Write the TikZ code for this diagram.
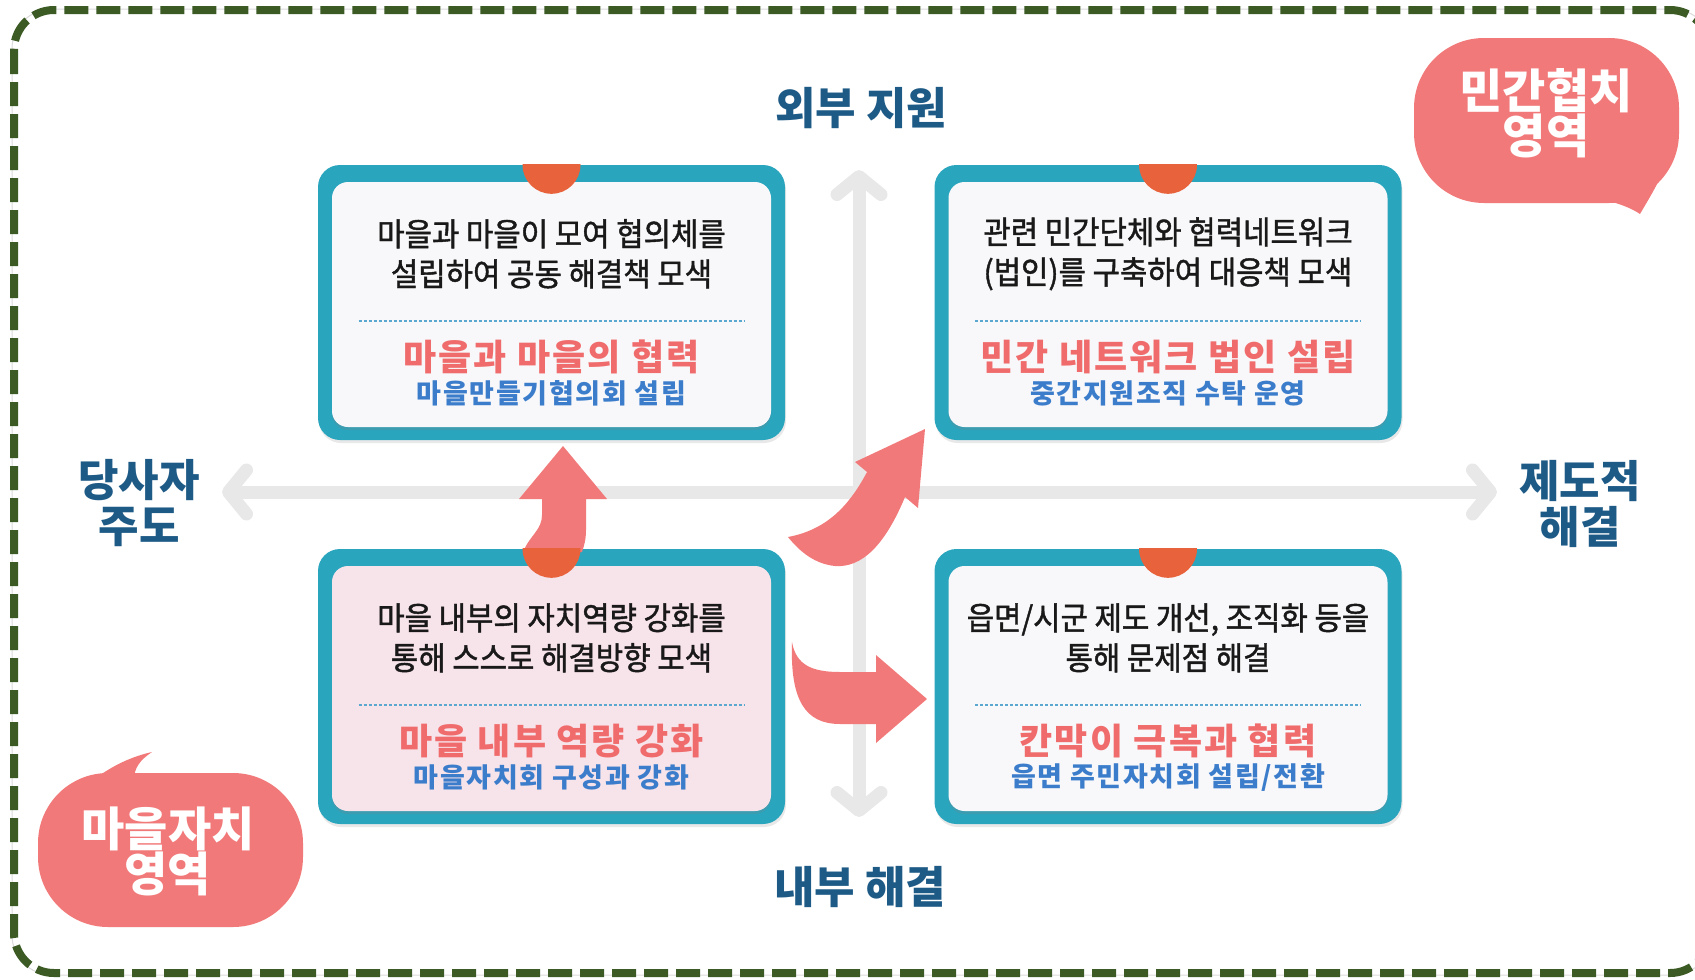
\documentclass[tikz,border=0pt]{standalone}
\usepackage{fontspec}
\newfontfamily\krfont{Noto Sans CJK KR}
\newfontfamily\krnarrow{Noto Sans CJK KR}[FakeStretch=0.93, FakeBold=1.3]
\newfontfamily\krwide{Noto Sans CJK KR}[LetterSpace=6]
\usetikzlibrary{arrows.meta, positioning, shadows}

\definecolor{cardteal}{HTML}{2AA5BE}
\definecolor{cardwhite}{HTML}{F8F8FA}
\definecolor{cardpink}{HTML}{F7E3EA}
\definecolor{knoborange}{HTML}{E8623C}
\definecolor{bubblered}{HTML}{F27979}
\definecolor{headpink}{HTML}{F06B6B}
\definecolor{subblue}{HTML}{3C7DCB}
\definecolor{labelblue}{HTML}{1E5A86}
\definecolor{axisgray}{HTML}{E8E8E8}
\definecolor{framegreen}{HTML}{3B5A24}
\definecolor{dividerblue}{HTML}{5AA8D0}

\tikzset{
  card/.style={fill=cardteal, rounded corners=22pt, minimum width=467pt, minimum height=275pt, inner sep=0pt,
    drop shadow={opacity=.18, shadow xshift=1pt, shadow yshift=-3pt}},
  cardin/.style={fill=cardwhite, rounded corners=16pt, minimum width=439pt, minimum height=245pt, inner sep=0pt,
    drop shadow={opacity=.22, shadow xshift=0pt, shadow yshift=-3pt}},
  cardtext/.style={font=\krnarrow\fontsize{32}{40}\selectfont, text=black!90, align=center, inner sep=0pt},
  headline/.style={font=\krwide\bfseries\fontsize{36}{40}\selectfont, text=headpink, inner sep=0pt},
  subline/.style={font=\krwide\bfseries\fontsize{27}{30}\selectfont, text=subblue, inner sep=0pt},
  divider/.style={draw=dividerblue, line width=1.5pt, dash pattern=on 3pt off 2pt},
  axislabel/.style={font=\krfont\bfseries\fontsize{44}{46}\selectfont, text=labelblue, align=center, inner sep=0pt},
  axisline/.style={draw=axisgray, line width=13pt,
    arrows={Straight Barb[length=18pt,width=44pt,round]-Straight Barb[length=18pt,width=44pt,round]}},
  bubble/.style={fill=bubblered, rounded corners=70pt, minimum width=265pt, inner sep=0pt},
  bubbletext/.style={font=\krfont\bfseries\fontsize{47}{45}\selectfont, text=white, align=center, inner sep=0pt},
  bigarrow/.style={fill=bubblered},
  knob/.style={fill=knoborange},
  frameline/.style={draw=framegreen, line width=8pt, dash pattern=on 24pt off 8pt, rounded corners=40pt}
}

\begin{document}
\begin{tikzpicture}[x=1pt, y=-1pt]
  \useasboundingbox (0,0) rectangle (1695,980);
  \clip (0,0) rectangle (1695,980);

  % frame
  \draw[gray!30, line width=1pt, rounded corners=40pt] (12,9) rectangle (1712,975);
  \draw[frameline] (14,10) rectangle (1710,973);

  % axes
  \coordinate (axw) at (222,492);
  \coordinate (axe) at (1497,492);
  \coordinate (axn) at (859,170);
  \coordinate (axs) at (859,817);
  \draw[axisline] (axw) -- (axe);
  \draw[axisline] (axs) -- (axn);

  \node[axislabel] (outer) at (861,108) {외부 지원};
  \node[axislabel] (inner) at (860,887) {내부 해결};
  \node[axislabel] (self) at (139,503) {당사자\\주도};
  \node[axislabel] (inst) at (1580,504) {제도적\\해결};

  % cards
  \node[card] (tl) at (551.5,302.5) {};
  \node[cardin] (tlin) at (551.5,304.5) {};
  \node[card] (tr) at (1168,302.5) {};
  \node[cardin] (trin) at (1168,304.5) {};
  \node[card] (bl) at (551.5,686.5) {};
  \node[cardin, fill=cardpink] (blin) at (551.5,688.5) {};
  \node[card] (br) at (1168,686.5) {};
  \node[cardin] (brin) at (1168,688.5) {};

  \node[cardtext] (tltext) at ([yshift=-89pt]tl.north) {마을과 마을이 모여 협의체를\\설립하여 공동 해결책 모색};
  \draw[divider] ([xshift=-193pt,yshift=-156pt]tl.north) -- ([xshift=193pt,yshift=-156pt]tl.north);
  \node[headline] (tlhead) at ([yshift=-192pt]tl.north) {마을과 마을의 협력};
  \node[subline] (tlsub) at ([yshift=-229pt]tl.north) {마을만들기협의회 설립};

  \node[cardtext] (trtext) at ([yshift=-89pt]tr.north) {관련 민간단체와 협력네트워크\\(법인)를 구축하여 대응책 모색};
  \draw[divider] ([xshift=-193pt,yshift=-156pt]tr.north) -- ([xshift=193pt,yshift=-156pt]tr.north);
  \node[headline] (trhead) at ([yshift=-192pt]tr.north) {민간 네트워크 법인 설립};
  \node[subline] (trsub) at ([yshift=-229pt]tr.north) {중간지원조직 수탁 운영};

  \node[cardtext] (bltext) at ([yshift=-89pt]bl.north) {마을 내부의 자치역량 강화를\\통해 스스로 해결방향 모색};
  \draw[divider] ([xshift=-193pt,yshift=-156pt]bl.north) -- ([xshift=193pt,yshift=-156pt]bl.north);
  \node[headline] (blhead) at ([yshift=-192pt]bl.north) {마을 내부 역량 강화};
  \node[subline] (blsub) at ([yshift=-229pt]bl.north) {마을자치회 구성과 강화};

  \node[cardtext] (brtext) at ([yshift=-89pt]br.north) {읍면/시군 제도 개선, 조직화 등을\\통해 문제점 해결};
  \draw[divider] ([xshift=-193pt,yshift=-156pt]br.north) -- ([xshift=193pt,yshift=-156pt]br.north);
  \node[headline] (brhead) at ([yshift=-192pt]br.north) {칸막이 극복과 협력};
  \node[subline] (brsub) at ([yshift=-229pt]br.north) {읍면 주민자치회 설립/전환};

  % block arrows
  \fill[bigarrow] (523,552) .. controls (530,535) and (542,530) .. (542,515) -- (542,499) -- (519,499)
    -- (563,446) -- (607,499) -- (586,499) -- (586,530) .. controls (586,540) and (584,546) .. (582,552) -- cycle;
  \fill[bigarrow] (788,537) .. controls (825,530) and (848,508) .. (867,472) -- (855,462) -- (925,429)
    -- (918,508) -- (905,497) .. controls (885,545) and (862,568) .. (835,566)
    .. controls (815,564) and (800,552) .. (788,537) -- cycle;
  \fill[bigarrow] (792,642) .. controls (796,665) and (812,672) .. (840,672) -- (876,672) -- (876,655)
    -- (927,699) -- (876,743) -- (876,724) -- (840,724) .. controls (805,724) and (790,700) .. (792,642) -- cycle;

  % knobs
  \foreach \c in {tl,tr,bl,br} {
    \begin{scope}
      \clip (\c.north west) rectangle (\c.south east);
      \fill[knob] (\c.north) circle[radius=29pt];
    \end{scope}
  }

  % bubbles
  \node[bubble, minimum height=165pt] (mingan) at (1546.5,120.5) {};
  \fill[bubblered] (1580,195) .. controls (1610,200) and (1628,206) .. (1640,214)
    .. controls (1648,200) and (1658,185) .. (1668,160) -- cycle;
  \node[bubbletext] (mingantext) at (1546,113) {민간협치\\영역};

  \node[bubble, minimum height=154pt] (maeul) at (170.5,850) {};
  \fill[bubblered] (80,792) .. controls (100,772) and (125,758) .. (152,752)
    .. controls (140,760) and (134,768) .. (134,780) -- cycle;
  \node[bubbletext] (maeultext) at (168,851) {마을자치\\영역};
\end{tikzpicture}
\end{document}
